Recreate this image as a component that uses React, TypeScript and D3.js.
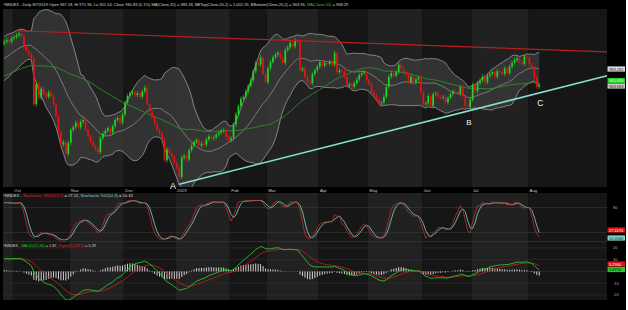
import React from "react";
import * as d3 from "d3";

const W = 628;
const H = 310;

// closes before the first visible bar, estimated from where the MA/band lines start
const priorCloses = [
  952, 955, 958, 956, 960, 962, 959, 963, 965, 961, 958, 962, 966, 964, 960, 957, 961, 965, 968, 966,
  963, 960, 962, 965, 963, 967, 970, 968, 972, 969, 972, 975, 978, 976, 981, 985, 983, 988, 992, 990,
  995, 998, 996, 1001, 1004, 1002, 1007, 1010, 1008, 1011,
];

// daily closes, one array per month
const closesSep = [1013, 1015, 1013, 1017];
const closesOct = [1018, 1020, 1022, 1019, 1007, 1003, 1000, 995, 945, 967, 952, 962, 956, 953, 958, 954, 945, 932, 915, 901, 904, 891, 903];
const closesNov = [917, 920, 925, 920, 926, 928, 917, 910, 905, 900, 896, 893, 908, 913, 916, 919, 914, 921, 928, 930, 925, 934];
const closesDec = [947, 954, 957, 958, 955, 957, 953, 959, 963, 945, 937, 931, 924, 917, 913, 907, 884, 896, 892, 888, 881];
const closesJan = [876, 866, 887, 889, 885, 895, 900, 904, 906, 900, 902, 901, 907, 910, 908, 909, 912, 914, 916, 917, 910, 906];
const closesFeb = [908, 923, 934, 943, 951, 953, 959, 965, 971, 981, 990, 988, 996, 978, 969];
const closesMar = [984, 991, 996, 999, 1001, 995, 990, 1004, 1007, 1012, 1008, 1015, 1013, 982, 984, 975, 969, 968, 978, 982, 986];
const closesApr = [991, 987, 990, 989, 991, 988, 1001, 980, 982, 981, 975, 965, 967, 964, 968, 972, 977, 979, 980, 971];
const closesMay = [967, 958, 955, 951, 946, 947, 953, 964, 975, 979, 976, 980, 988, 984, 980, 977, 969, 975, 969, 972, 974, 958];
const closesJun = [945, 946, 954, 943, 956, 957, 953, 952, 953, 947, 952, 956, 959, 958, 957, 964, 954, 943, 942, 950];
const closesJul = [966, 959, 968, 971, 975, 969, 976, 978, 980, 975, 981, 980, 978, 984, 979, 986, 990, 993, 995, 991, 989, 997, 996];
const closesAug = [988, 984, 974, 964, 965.83];

const monthLabels = ["", "Oct", "Nov", "Dec", "2019", "Feb", "Mar", "Apr", "May", "Jun", "Jul", "Aug"];
const monthCloses = [closesSep, closesOct, closesNov, closesDec, closesJan, closesFeb, closesMar, closesApr, closesMay, closesJun, closesJul, closesAug];
const emptySlots = 27; // blank space right of the last bar

// trend lines, as (bar, price) pairs
const resistance = [{ bar: 6, price: 1025 }, { bar: 245, price: 1002 }];
const support = [{ bar: 71.5, price: 858 }, { bar: 245, price: 976 }];
const annotations = [
  { label: "A", bar: 69, price: 853, size: 9 },
  { label: "B", bar: 189, price: 922, size: 8 },
  { label: "C", bar: 218, price: 943, size: 8.5 },
];

const FONT = "Liberation Sans, Arial, sans-serif";
const GREEN = "#22d422";
const RED = "#e01414";

const sma = (a: number[], n: number) =>
  a.map((_, i) => (i < n - 1 ? NaN : d3.mean(a.slice(i - n + 1, i + 1))!));
const sdev = (a: number[], n: number) =>
  a.map((_, i) => {
    if (i < n - 1) return NaN;
    const w = a.slice(i - n + 1, i + 1);
    const m = d3.mean(w)!;
    return Math.sqrt(d3.mean(w, (v) => (v - m) ** 2)!);
  });
const ema = (a: number[], n: number) => {
  const k = 2 / (n + 1);
  const out: number[] = [];
  a.forEach((v, i) => out.push(i === 0 ? v : v * k + out[i - 1] * (1 - k)));
  return out;
};

export default function App() {
  const visible = monthCloses.flat();
  const full = priorCloses.concat(visible);
  const P = priorCloses.length;
  const N = visible.length;
  const total = N + emptySlots;

  const opens = full.map((c, i) => (i === 0 ? c : full[i - 1]));
  const highs = full.map((c, i) => Math.max(c, opens[i]) + 2.5);
  const lows = full.map((c, i) => Math.min(c, opens[i]) - 2.5);

  const ma20 = sma(full, 20);
  const sd20 = sdev(full, 20);
  const ma50 = sma(full, 50);
  const bbTop = ma20.map((m, i) => m + 2 * sd20[i]);
  const bbBot = ma20.map((m, i) => m - 2 * sd20[i]);

  const rawK = full.map((c, i) => {
    const s = Math.max(0, i - 13);
    const hh = d3.max(highs.slice(s, i + 1))!;
    const ll = d3.min(lows.slice(s, i + 1))!;
    return ((c - ll) / (hh - ll)) * 100;
  });
  const stochK = sma(rawK, 3);
  const stochD = sma(stochK, 3);

  const e12 = ema(full, 12);
  const e26 = ema(full, 26);
  const macd = e12.map((v, i) => v - e26[i]);
  const signal = ema(macd, 9);

  const vis = (a: number[]) => a.slice(P);

  const x = d3.scaleLinear().domain([0, total]).range([3, 607]);
  const xc = (j: number) => x(j + 0.5);
  const yP = d3.scaleLinear().domain([855, 1053]).range([187, 5]);
  const yS = d3.scaleLinear().domain([0, 100]).range([241, 199]);
  const yM = d3.scaleLinear().domain([-24.3, 25]).range([300, 242]);

  // month stripes
  let start = 0;
  const months = monthCloses.map((m, k) => {
    const s = start;
    start += m.length;
    return { label: monthLabels[k], start: s, end: k === monthCloses.length - 1 ? total : s + m.length, k };
  });

  const mkLine = (y: d3.ScaleLinear<number, number>) =>
    d3
      .line<number>()
      .defined((v) => !isNaN(v))
      .x((_, j) => xc(j))
      .y((v) => y(v));

  const band = d3
    .area<number>()
    .x((_, j) => xc(j))
    .y0((_, j) => yP(vis(bbBot)[j]))
    .y1((_, j) => yP(vis(bbTop)[j]));

  const panels = [
    { id: "pMain", y0: 9, y1: 187 },
    { id: "pStoch", y0: 193, y1: 241 },
    { id: "pMacd", y0: 242, y1: 300 },
  ];

  const box = (yc: number, text: string, bg: string, fg: string) => (
    <g key={text + yc}>
      <rect x={607.5} y={yc - 2.6} width={17.5} height={5.2} fill={bg} />
      <text x={609} y={yc + 1.5} fontSize={4} fill={fg} fontFamily={FONT}>
        {text}
      </text>
    </g>
  );
  const tick = (v: number, text: string) => (
    <text key={"t" + text} x={613} y={yM(v) + 1.5} fontSize={4} fill="#aaa" fontFamily={FONT}>
      {text}
    </text>
  );

  const visO = vis(opens);
  const visH = vis(highs);
  const visL = vis(lows);
  const visMacd = vis(macd);
  const visSig = vis(signal);

  return (
    <svg width={W} height={H} style={{ position: "absolute", left: 0, top: 0, display: "block" }}>
      <defs>
        {panels.map((p) => (
          <clipPath id={p.id} key={p.id}>
            <rect x={3} y={p.y0} width={604} height={p.y1 - p.y0} />
          </clipPath>
        ))}
      </defs>
      <rect width={W} height={H} fill="#000" />

      {panels.map((p) =>
        months.map((m) => (
          <rect
            key={p.id + m.k}
            x={x(m.start)}
            y={p.y0}
            width={x(m.end) - x(m.start)}
            height={p.y1 - p.y0}
            fill={m.k % 2 === 0 ? "#212121" : "#161616"}
          />
        ))
      )}

      {/* price panel */}
      <g clipPath="url(#pMain)">
        <path d={band(visible) || ""} fill="#3a3a3a" opacity={0.8} />
        <path d={mkLine(yP)(vis(bbTop)) || ""} fill="none" stroke="#9a9a9a" strokeWidth={0.8} />
        <path d={mkLine(yP)(vis(bbBot)) || ""} fill="none" stroke="#9a9a9a" strokeWidth={0.8} />
        <path d={mkLine(yP)(vis(ma20)) || ""} fill="none" stroke="#8c8c8c" strokeWidth={0.8} />
        <path d={mkLine(yP)(vis(ma50)) || ""} fill="none" stroke="#2c8c2c" strokeWidth={0.9} />
        {visible.map((c, j) => {
          const up = c >= visO[j];
          const col = up ? GREEN : RED;
          const top = yP(Math.max(c, visO[j]));
          const bot = yP(Math.min(c, visO[j]));
          return (
            <g key={j}>
              <line x1={xc(j)} x2={xc(j)} y1={yP(visH[j])} y2={yP(visL[j])} stroke={col} strokeWidth={0.6} />
              <rect x={xc(j) - 0.85} y={top} width={1.7} height={Math.max(0.8, bot - top)} fill={col} />
            </g>
          );
        })}
        <line
          x1={x(resistance[0].bar)}
          y1={yP(resistance[0].price)}
          x2={x(resistance[1].bar)}
          y2={yP(resistance[1].price)}
          stroke="#b8201f"
          strokeWidth={1.2}
        />
      </g>
      <line
        x1={x(support[0].bar)}
        y1={yP(support[0].price)}
        x2={x(support[1].bar)}
        y2={yP(support[1].price)}
        stroke="#84e0d2"
        strokeWidth={1.5}
      />
      {annotations.map((a) => (
        <text key={a.label} x={x(a.bar)} y={yP(a.price)} fontSize={a.size} fill="#f2f2f2" fontFamily={FONT} textAnchor="middle">
          {a.label}
        </text>
      ))}

      <text x={3} y={6} fontSize={4} fill="#d8d8d8" fontFamily={FONT}>
        ^NNDEX - Daily 8/7/2019 Open 967.18, Hi 971.96, Lo 951.54, Close 965.83 (0.1%) MA(Close,20) = 983.28,
        BBTop(Close,20,2) = 1,002.59, BBottom(Close,20,2) = 963.96, <tspan fill="#2ecc2e">MA(Close,50)</tspan> = 968.29
      </text>

      {/* date row */}
      {months
        .filter((m) => m.label)
        .map((m) => (
          <text key={"d" + m.k} x={x(m.start) + 1.5} y={192} fontSize={4.3} fill="#c8c8c8" fontFamily={FONT}>
            {m.label}
          </text>
        ))}

      {box(69, "983.282", "#dcdcdc", "#111")}
      {box(80.5, "965.830", "#22cc22", "#fff")}
      {box(86, "963.963", "#c8c8c8", "#111")}

      {/* stochastic panel */}
      <g clipPath="url(#pStoch)">
        {[80, 20].map((v) => (
          <line key={v} x1={3} x2={607} y1={yS(v)} y2={yS(v)} stroke="#3c3c3c" strokeWidth={0.6} />
        ))}
        <path d={mkLine(yS)(vis(stochD)) || ""} fill="none" stroke="#7fd6c8" strokeWidth={0.8} />
        <path d={mkLine(yS)(vis(stochK)) || ""} fill="none" stroke="#c0302a" strokeWidth={0.8} />
      </g>
      <text x={3} y={196.5} fontSize={4.1} fill="#d8d8d8" fontFamily={FONT}>
        ^NNDEX - <tspan fill="#e02020">Stochastic %K(14,3,1)</tspan> = 27.12, <tspan fill="#7fd6c8">Stochastic %D(14,3)</tspan> = 10.33
      </text>
      <text x={613} y={yS(80) + 1.5} fontSize={4} fill="#aaa" fontFamily={FONT}>
        80
      </text>
      {box(230, "27.1170", "#e01414", "#fff")}
      {box(238, "10.3340", "#7fd6c8", "#111")}

      <line x1={3} x2={607} y1={241.6} y2={241.6} stroke="#555" strokeWidth={0.6} />

      {/* MACD panel */}
      <g clipPath="url(#pMacd)">
        {[20, 10, 0, -10, -20].map((v) => (
          <line key={v} x1={3} x2={607} y1={yM(v)} y2={yM(v)} stroke="#333" strokeWidth={0.6} />
        ))}
        {visMacd.map((m, j) => {
          const h = m - visSig[j];
          return (
            <line key={j} x1={xc(j)} x2={xc(j)} y1={yM(0)} y2={yM(h)} stroke="#e4e4e4" strokeWidth={0.9} />
          );
        })}
        <path d={mkLine(yM)(visSig) || ""} fill="none" stroke="#b8201f" strokeWidth={0.9} />
        <path d={mkLine(yM)(visMacd) || ""} fill="none" stroke="#2fbf2f" strokeWidth={0.9} />
      </g>
      <text x={3} y={246.5} fontSize={3.8} fill="#d8d8d8" fontFamily={FONT}>
        ^NNDEX - <tspan fill="#2ecc2e">MACD(12,26)</tspan> = 1.87, <tspan fill="#e02020">Signal(12,26,9)</tspan> = 5.29
      </text>
      {tick(20, "20")}
      {tick(10, "10")}
      {box(264, "5.2900", "#e01414", "#fff")}
      {box(269.5, "1.8700", "#22cc22", "#111")}
      {tick(-10, "-10")}
      {tick(-20, "-20")}

      <rect x={626} y={0} width={2} height={H} fill="#fff" />
    </svg>
  );
}
